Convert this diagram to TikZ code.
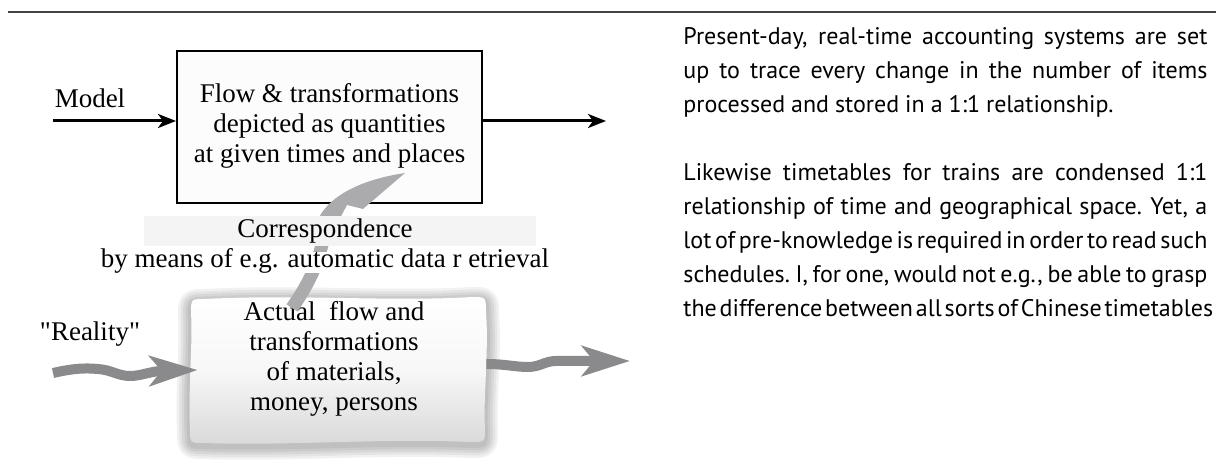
\documentclass[tikz,border=0pt]{standalone}
\usepackage{fontspec}
\setmainfont{Liberation Serif}
\newfontfamily\parafont{PT Sans}
\font\plainquote="Liberation Serif" at 13.5pt
\usetikzlibrary{arrows.meta}
\definecolor{rulegray}{HTML}{444444}
\definecolor{wavegray}{HTML}{8A8A8C}
\definecolor{corrgray}{HTML}{ABABAD}
\definecolor{panelgray}{HTML}{F4F4F4}
\definecolor{boxfill}{HTML}{FCFCFC}
\tikzset{
  serif/.style={font=\fontsize{13.5}{15}\selectfont, inner sep=0pt, align=center},
  modelbox/.style={draw=black, line width=1pt, fill=boxfill, minimum width=152.5pt, minimum height=76pt, inner sep=0pt, font=\fontsize{13.5}{15}\selectfont},
  blackarrow/.style={line width=1.5pt, -{Stealth[length=9pt,width=7pt,inset=2.5pt]}},
  wavearrow/.style={draw=wavegray, line width=5pt, line cap=butt, -{Stealth[length=24pt,width=15pt,inset=6pt]}},
  realshape/.style={insert path={(205,299) .. controls (300,294) and (390,302) .. (472,297) .. controls (486,297) .. (486,312) .. controls (489,350) and (483,400) .. (485,428) .. controls (485,442) .. (471,442) .. controls (380,438) and (290,446) .. (204,443) .. controls (190,443) .. (190,429) .. controls (188,390) and (193,340) .. (191,313) .. controls (191,299) .. (205,299) -- cycle}},
  frame/.style={minimum width=148pt, minimum height=72pt, inner sep=0pt}
}
\begin{document}
\begin{tikzpicture}[x=0.5pt,y=-0.5pt]
\useasboundingbox (0,0) rectangle (1216,474);
% top rule
\coordinate (ruleL) at (8,12);
\coordinate (ruleR) at (1216,12);
\draw[rulegray, line width=1pt] (ruleL) -- (ruleR);

% model part
\node[modelbox] (modelbox) at (329.5,127) {\raisebox{2pt}{\begin{tabular}{@{}c@{}}Flow \& transformations\\depicted as quantities\\at given times and places\end{tabular}}};
\node[serif] (modellabel) at (90,98) {Model};
\coordinate (modelin) at (53,121);
\coordinate (modelout) at (606,121);
\draw[blackarrow] (modelin) -- (modelin -| modelbox.west);
\draw[blackarrow] (modelbox.east |- modelout) -- (modelout);

% reality box
\foreach \w in {26,21,16,11,6} {
  \draw[black, opacity=0.055, line width=\w*0.5pt, line join=round, yshift=-1.5pt, realshape];
}
\shade[top color=white, bottom color=black!15, middle color=black!3, realshape];
\node[frame] (realframe) at (338,370) {};
\node[serif] (realtext) at (334,359) {Actual~ flow and\\transformations\\of materials,\\money, persons};
\node[inner sep=0pt] (reality) at (90,334) {\plainquote "Reality"};

% wavy arrows
\coordinate (wavein) at (53,373);
\draw[wavearrow] (wavein) .. controls (75,368) and (85,368) .. (98,369) .. controls (112,370) and (118,376) .. (130,376) .. controls (142,376) and (150,371) .. ([xshift=4pt]realframe.west);
\coordinate (waveout) at (630,361);
\draw[wavearrow] ([yshift=3pt]realframe.east) .. controls (505,364) and (515,367) .. (528,367) .. controls (540,367) and (545,361) .. (556,361) .. controls (570,361) and (600,361) .. (waveout);

% correspondence arrow
\coordinate (corrtail) at (292,308);
\coordinate (corrtip) at (405,173);
\draw[corrgray, line width=6.5pt] (corrtail) .. controls (314,276) and (321,256) .. (327,220);
\fill[corrgray] (317,222) .. controls (326,198) and (358,180) .. (corrtip) -- (363,209) -- (347,205) -- (338,222) -- cycle;

% panels and text
\fill[panelgray] (144,216) rectangle (536,246);
\fill[white] (78,252) rectangle (559,273);
\node[serif] (corr) at (325,246) {Correspondence\\by means of e.g. automatic data r etrieval};

% right paragraph
\node[anchor=base west, inner sep=0pt, font=\parafont\fontsize{12}{17}\selectfont] (para) at (683,45) {\parbox[t]{262pt}{%
\spaceskip=.25em plus 1em minus .13em \xspaceskip=.3em plus 1em minus .13em
\hbox to \hsize{Present-day, real-time accounting systems are set}
\hbox to \hsize{up to trace every change in the number of items}
\hbox{processed and stored in a 1:1 relationship.}
\vskip 17pt
\hbox to \hsize{Likewise timetables for trains are condensed 1:1}
\hbox to \hsize{relationship of time and geographical space. Yet, a}
\hbox to \hsize{lot of pre-knowledge is required in order to read such}
\hbox to \hsize{schedules. I, for one, would not e.g., be able to grasp}
\hbox to \hsize{the difference between all sorts of Chinese timetables}}};
\end{tikzpicture}
\end{document}
